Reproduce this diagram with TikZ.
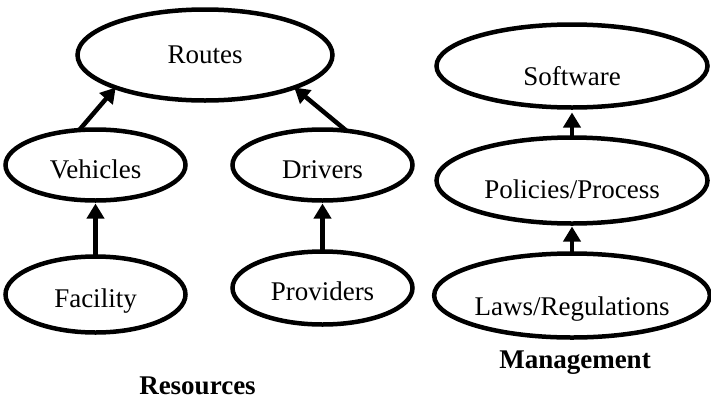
\documentclass[tikz,border=0pt]{standalone}
\usepackage{fontspec}
\setmainfont{Liberation Serif}
\usetikzlibrary{shapes.geometric,arrows.meta}
\tikzset{
  oval/.style={ellipse, draw=black, line width=4.5pt, inner sep=0pt, outer sep=0pt,
    text depth=0pt, font=\fontsize{27}{31}\selectfont},
  lift/.style={text height=#1},
  conn/.style={line width=4.5pt, -{Triangle[length=15pt,width=17pt]}},
  caption/.style={anchor=base, font=\fontsize{27}{31}\selectfont\bfseries, inner sep=0pt}
}
\begin{document}
\begin{tikzpicture}[x=1pt,y=1pt]
\useasboundingbox (0,0) rectangle (711,-399);
% Resources
\node[oval, lift=16pt, minimum width=255pt, minimum height=91pt] (routes) at (205,-55) {Routes};
\node[oval, lift=26pt, minimum width=180pt, minimum height=71pt] (veh) at (95.5,-165) {Vehicles};
\node[oval, lift=26pt, minimum width=180pt, minimum height=71pt] (drv) at (322.5,-165) {Drivers};
\node[oval, lift=25pt, minimum width=180pt, minimum height=76pt] (fac) at (95.5,-294.5) {Facility};
\node[oval, lift=24pt, minimum width=180pt, minimum height=73pt] (prov) at (322.5,-288) {Providers};
% Management
\node[oval, lift=38pt, minimum width=271pt, minimum height=83pt] (soft) at (572,-66) {Software};
\node[oval, lift=35pt, minimum width=271pt, minimum height=86pt] (pol) at (572,-180.5) {Policies/Process};
\node[oval, lift=39pt, minimum width=271pt, minimum height=84pt] (laws) at (572,-295.5) {Laws/Regulations};
% connectors
\draw[conn] (veh.115) -- (routes.200);
\draw[conn] (drv.55) -- (routes.340);
\draw[conn, shorten >=3pt] (fac.north) -- (veh.south);
\draw[conn, shorten >=3pt] (prov.north) -- (drv.south);
\draw[conn, shorten >=5pt] (pol.north) -- (soft.south);
\draw[conn, shorten >=3pt] (laws.north) -- (pol.south);
% captions
\node[caption] (res) at (197.5,-394) {Resources};
\node[caption] (man) at (575,-368) {Management};
\end{tikzpicture}
\end{document}
